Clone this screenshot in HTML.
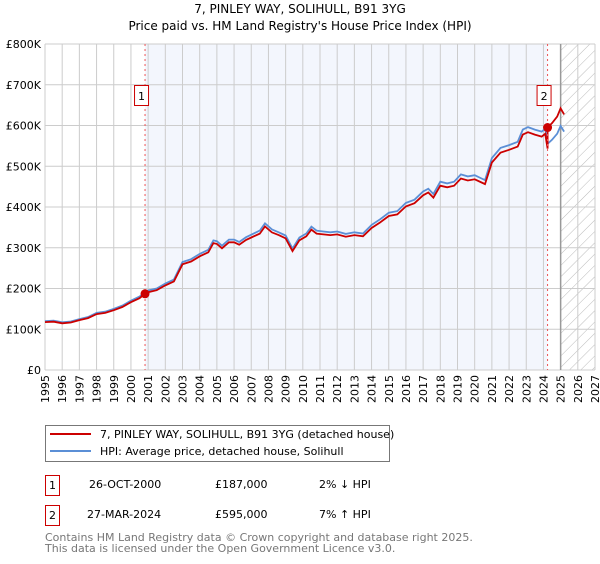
<!DOCTYPE html>
<html><head><meta charset="utf-8"><style>
body{margin:0;background:#fff;font-family:"DejaVu Sans","Liberation Sans",sans-serif;}
svg text{font-family:"DejaVu Sans","Liberation Sans",sans-serif;}
</style></head><body>
<svg id="c" width="600" height="560" xmlns="http://www.w3.org/2000/svg">
<defs><pattern id="h" width="8" height="8" patternUnits="userSpaceOnUse" patternTransform="rotate(45)"><line x1="0" y1="0" x2="0" y2="8" stroke="#bbb" stroke-width="1"/></pattern></defs>
<text x="300" y="13" text-anchor="middle" font-size="12">7, PINLEY WAY, SOLIHULL, B91 3YG</text>
<text x="300" y="30" text-anchor="middle" font-size="12">Price paid vs. HM Land Registry's House Price Index (HPI)</text>
<g id="plot"></g>
<g>
<rect x="45.5" y="425.5" width="344" height="36" fill="#fff" stroke="#777"/>
<line x1="50" y1="434" x2="91" y2="434" stroke="#cc0000" stroke-width="2"/>
<text x="100" y="438" font-size="11">7, PINLEY WAY, SOLIHULL, B91 3YG (detached house)</text>
<line x1="50" y1="451" x2="91" y2="451" stroke="#5b8fd6" stroke-width="2"/>
<text x="100" y="455" font-size="11">HPI: Average price, detached house, Solihull</text>
</g>
<g font-size="11">
<rect x="45.5" y="475.5" width="14" height="20" fill="#fff" stroke="#c00"/><text x="52.5" y="489" text-anchor="middle">1</text>
<text x="89" y="488">26-OCT-2000</text><text x="215" y="488">£187,000</text><text x="319" y="488">2% ↓ HPI</text>
<rect x="45.5" y="505.5" width="14" height="20" fill="#fff" stroke="#c00"/><text x="52.5" y="519" text-anchor="middle">2</text>
<text x="87" y="518">27-MAR-2024</text><text x="215" y="518">£595,000</text><text x="319" y="518">7% ↑ HPI</text>
</g>
<text x="45" y="541" font-size="11" fill="#777">Contains HM Land Registry data © Crown copyright and database right 2025.</text>
<text x="45" y="552" font-size="11" fill="#777">This data is licensed under the Open Government Licence v3.0.</text>
</svg>
<script>
const hpiYears=[1995,1995.5,1996,1996.5,1997,1997.5,1998,1998.5,1999,1999.5,2000,2000.5,2000.82,2001,2001.5,2002,2002.5,2003,2003.5,2004,2004.5,2004.8,2005,2005.3,2005.7,2006,2006.3,2006.7,2007,2007.5,2007.8,2008.2,2008.6,2009,2009.4,2009.8,2010.2,2010.5,2010.8,2011.2,2011.6,2012,2012.5,2013,2013.5,2014,2014.5,2015,2015.5,2016,2016.5,2017,2017.3,2017.6,2018,2018.4,2018.8,2019.2,2019.6,2020,2020.4,2020.6,2021,2021.5,2022,2022.5,2022.8,2023.1,2023.5,2023.9,2024.1,2024.24,2024.5,2024.8,2025,2025.2];
const hpiValues=[120,121,117,119,125,130,140,143,150,158,170,180,191,195,200,212,222,265,272,285,295,318,316,305,320,320,314,326,332,342,360,345,338,330,298,325,335,352,342,340,338,340,334,338,335,356,370,386,390,410,418,438,445,432,462,458,462,480,475,478,470,466,520,545,552,560,590,596,590,585,592,555,565,580,599,585];
const saleYears=[2000.82,2024.24];
const salePrices=[187,595];
const yTicks=[0,100,200,300,400,500,600,700,800];
const yTickLabels=["£0","£100K","£200K","£300K","£400K","£500K","£600K","£700K","£800K"];
const xTicks=[1995,1996,1997,1998,1999,2000,2001,2002,2003,2004,2005,2006,2007,2008,2009,2010,2011,2012,2013,2014,2015,2016,2017,2018,2019,2020,2021,2022,2023,2024,2025,2026,2027];
const X0=45,X1=595,Y0=370,Y1=44;
const xs=y=>X0+(y-1995)/(2027-1995)*(X1-X0);
const ys=v=>Y0-v/800*(Y0-Y1);
const g=document.getElementById('plot');
const NS='http://www.w3.org/2000/svg';
function mk(t,a,p){const e=document.createElementNS(NS,t);for(const k in a)e.setAttribute(k,a[k]);(p||g).appendChild(e);return e;}
function hpiAt(t){for(let i=1;i<hpiYears.length;i++){if(t<=hpiYears[i]){const f=(t-hpiYears[i-1])/(hpiYears[i]-hpiYears[i-1]);return hpiValues[i-1]+f*(hpiValues[i]-hpiValues[i-1]);}}return hpiValues[hpiValues.length-1];}
let e=mk('rect',{x:xs(saleYears[0]),y:Y1,width:xs(saleYears[1])-xs(saleYears[0]),height:Y0-Y1,fill:'#f3f6fd'});

e=mk('rect',{x:xs(2025),y:Y1,width:X1-xs(2025),height:Y0-Y1,fill:'url(#h)'});

xTicks.forEach(t=>{const l=mk('line',{x1:xs(t),x2:xs(t),y1:Y1,y2:Y0,stroke:'#ccc'});

const tx=mk('text',{x:0,y:0,'font-size':11,'text-anchor':'end',transform:`translate(${xs(t)+4},${Y0+5}) rotate(-90)`});tx.textContent=t;
});
yTicks.forEach((t,i)=>{const l=mk('line',{x1:X0,x2:X1,y1:ys(t),y2:ys(t),stroke:'#ccc'});

const tx=mk('text',{x:X0-4,y:ys(t)+4,'font-size':11,'text-anchor':'end'});tx.textContent=yTickLabels[i];
});
e=mk('line',{x1:xs(2025),x2:xs(2025),y1:Y1,y2:Y0,stroke:'#999','stroke-width':1.5});

// series
let bp='';hpiYears.forEach((t,i)=>{bp+=(i?'L':'M')+xs(t).toFixed(1)+','+ys(hpiValues[i]).toFixed(1);});
e=mk('path',{d:bp,fill:'none',stroke:'#5b8fd6','stroke-width':1.8});

const r1=salePrices[0]/hpiAt(saleYears[0]),r2=salePrices[1]/hpiAt(saleYears[1]);
let rp='';
hpiYears.forEach((t,i)=>{const r=t<saleYears[1]?r1:r2;rp+=(i?'L':'M')+xs(t).toFixed(1)+','+ys(hpiValues[i]*r).toFixed(1);
if(i<hpiYears.length-1&&t<saleYears[1]&&hpiYears[i+1]>=saleYears[1]){rp+='L'+xs(saleYears[1]).toFixed(1)+','+ys(hpiAt(saleYears[1])*r1).toFixed(1)+'L'+xs(saleYears[1]).toFixed(1)+','+ys(salePrices[1]).toFixed(1);}});
e=mk('path',{d:rp,fill:'none',stroke:'#cc0000','stroke-width':1.8});

saleYears.forEach((t,i)=>{const l=mk('line',{x1:xs(t),x2:xs(t),y1:Y1,y2:Y0,stroke:'#e55','stroke-dasharray':'2,3'});

const c=mk('circle',{cx:xs(t),cy:ys(salePrices[i]),r:4.5,fill:'#cc0000'});

const b=mk('rect',{x:xs(t)-10.5,y:85.5,width:14,height:20,fill:'#fff',stroke:'#c00'});

const tx=mk('text',{x:xs(t)-3.5,y:100,'font-size':11,'text-anchor':'middle'});tx.textContent=String(i+1);
});
</script>
</body></html>
